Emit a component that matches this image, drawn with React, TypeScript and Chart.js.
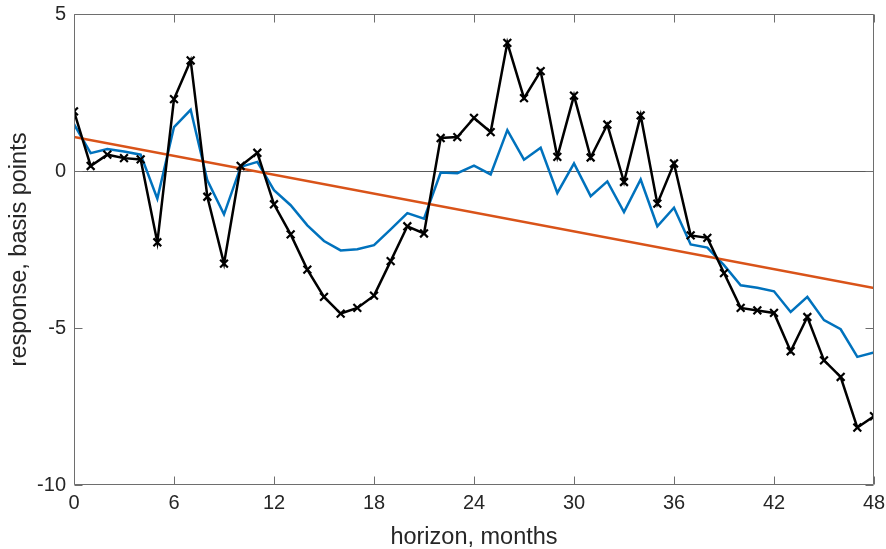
import React, { useEffect, useRef } from "react";
import { Chart, registerables } from "chart.js";

Chart.register(...registerables);

const horizons: number[] = Array.from({ length: 49 }, (_, i) => i);
const xTicks: number[] = [0, 6, 12, 18, 24, 30, 36, 42, 48];
const yTicks: number[] = [-10, -5, 0, 5];

const responseBlack: number[] = [
  1.9, 0.16, 0.52, 0.41, 0.37, -2.27, 2.29, 3.52, -0.82, -2.95,
  0.16, 0.58, -1.06, -2.02, -3.14, -4.01, -4.54, -4.36, -3.97, -2.87,
  -1.76, -1.99, 1.05, 1.08, 1.69, 1.24, 4.08, 2.32, 3.18, 0.45,
  2.4, 0.43, 1.48, -0.35, 1.77, -1.04, 0.24, -2.05, -2.13, -3.25,
  -4.36, -4.44, -4.52, -5.74, -4.65, -6.03, -6.56, -8.17, -7.81,
];

const responseBlue: number[] = [
  1.49, 0.57, 0.7, 0.62, 0.52, -0.88, 1.4, 1.95, -0.3, -1.38,
  0.13, 0.29, -0.61, -1.09, -1.73, -2.23, -2.53, -2.49, -2.36, -1.86,
  -1.34, -1.52, -0.05, -0.07, 0.17, -0.11, 1.3, 0.36, 0.74, -0.7,
  0.24, -0.8, -0.33, -1.31, -0.27, -1.76, -1.17, -2.34, -2.44, -3.0,
  -3.64, -3.72, -3.83, -4.49, -4.01, -4.75, -5.04, -5.92, -5.78,
];

const trendX: number[] = [0, 48];
const trendY: number[] = [1.08, -3.73];

const FONT = "'Liberation Sans', Arial, Helvetica, sans-serif";
const TEXT = "#262626";

const framePlugin = {
  id: "matlabFrame",
  beforeDatasetsDraw(chart: any) {
    const { ctx, chartArea } = chart;
    const y = chart.scales.y;
    const py = Math.round(y.getPixelForValue(0)) + 0.5;
    ctx.save();
    ctx.strokeStyle = "#5a5a5a";
    ctx.lineWidth = 1;
    ctx.beginPath();
    ctx.moveTo(chartArea.left, py);
    ctx.lineTo(chartArea.right, py);
    ctx.stroke();
    ctx.restore();
  },
  afterDraw(chart: any) {
    const { ctx, chartArea } = chart;
    const xs = chart.scales.x;
    const ys = chart.scales.y;
    const l = Math.round(chartArea.left) + 0.5;
    const r = Math.round(chartArea.right) - 0.5;
    const t = Math.round(chartArea.top) + 0.5;
    const b = Math.round(chartArea.bottom) - 0.5;
    const tl = 8;
    ctx.save();
    ctx.strokeStyle = "#6e6e6e";
    ctx.lineWidth = 1;
    ctx.beginPath();
    ctx.rect(l, t, r - l, b - t);
    xTicks.forEach((v) => {
      const px = Math.round(xs.getPixelForValue(v)) + 0.5;
      ctx.moveTo(px, b);
      ctx.lineTo(px, b - tl);
      ctx.moveTo(px, t);
      ctx.lineTo(px, t + tl);
    });
    yTicks.forEach((v) => {
      const py = Math.round(ys.getPixelForValue(v)) + 0.5;
      ctx.moveTo(l, py);
      ctx.lineTo(l + tl, py);
      ctx.moveTo(r, py);
      ctx.lineTo(r - tl, py);
    });
    ctx.stroke();
    ctx.restore();
  },
};

export default function App() {
  const canvasRef = useRef<HTMLCanvasElement | null>(null);

  useEffect(() => {
    if (!canvasRef.current) return;
    const chart = new Chart(canvasRef.current, {
      type: "line",
      data: {
        datasets: [
          {
            label: "response",
            data: horizons.map((h, i) => ({ x: h, y: responseBlack[i] })),
            borderColor: "#000000",
            backgroundColor: "#000000",
            borderWidth: 2.5,
            pointStyle: "crossRot",
            pointRadius: 5.5,
            pointBorderWidth: 2.2,
            pointBorderColor: "#000000",
            tension: 0,
            order: 0,
          },
          {
            label: "trend",
            data: trendX.map((h, i) => ({ x: h, y: trendY[i] })),
            borderColor: "#D95319",
            borderWidth: 2.5,
            pointRadius: 0,
            tension: 0,
            order: 1,
          },
          {
            label: "smoothed",
            data: horizons.map((h, i) => ({ x: h, y: responseBlue[i] })),
            borderColor: "#0072BD",
            borderWidth: 2.5,
            pointRadius: 0,
            tension: 0,
            order: 2,
          },
        ],
      },
      options: {
        animation: false,
        responsive: true,
        maintainAspectRatio: false,
        layout: { padding: { left: 0, right: 12, top: 14, bottom: -3 } },
        plugins: {
          legend: { display: false },
          tooltip: { enabled: false },
        },
        scales: {
          x: {
            type: "linear",
            min: 0,
            max: 48,
            afterBuildTicks: (scale: any) => {
              scale.ticks = xTicks.map((v) => ({ value: v }));
            },
            afterFit: (scale: any) => {
              scale.height = 67;
              scale.paddingLeft = 0;
              scale.paddingRight = 0;
            },
            grid: { display: false, drawTicks: false },
            border: { display: false },
            ticks: {
              color: TEXT,
              font: { family: FONT, size: 20 },
              padding: 6,
              maxRotation: 0,
            },
            title: {
              display: true,
              text: "horizon, months",
              color: TEXT,
              font: { family: FONT, size: 23.5 },
              padding: { top: 0, bottom: 0 },
            },
          },
          y: {
            type: "linear",
            min: -10,
            max: 5,
            afterBuildTicks: (scale: any) => {
              scale.ticks = yTicks.map((v) => ({ value: v }));
            },
            afterFit: (scale: any) => {
              scale.width = 74;
              scale.paddingTop = 0;
              scale.paddingBottom = 0;
            },
            grid: { display: false, drawTicks: false },
            border: { display: false },
            ticks: {
              color: TEXT,
              font: { family: FONT, size: 20 },
              padding: 8,
            },
            title: {
              display: true,
              text: "response, basis points",
              color: TEXT,
              font: { family: FONT, size: 23.5 },
              padding: { top: 5, bottom: 0 },
            },
          },
        },
      },
      plugins: [framePlugin],
    });
    return () => chart.destroy();
  }, []);

  return (
    <div
      style={{
        position: "absolute",
        left: 0,
        top: 0,
        width: 886,
        height: 549,
        background: "#ffffff",
      }}
    >
      <canvas ref={canvasRef} />
    </div>
  );
}
